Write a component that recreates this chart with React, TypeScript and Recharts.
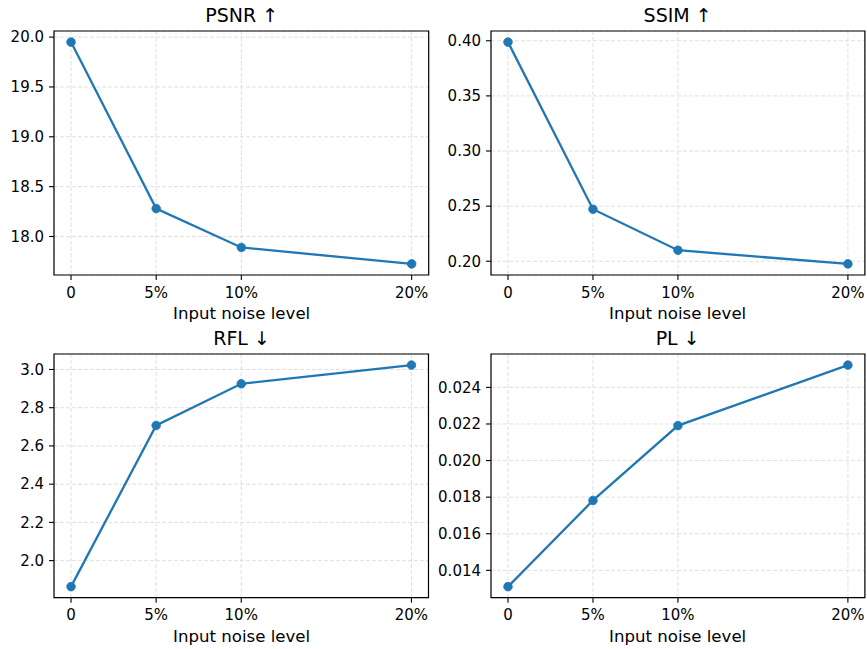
import React from 'react';
import { LineChart, Line, XAxis, YAxis, CartesianGrid, ReferenceArea } from 'recharts';

// ---- data ----
const noiseLevels = [0, 5, 10, 20];
const noiseTickLabels = ['0', '5%', '10%', '20%'];

const psnrValues = [19.95, 18.28, 17.89, 17.725];
const ssimValues = [0.3988, 0.2472, 0.21, 0.1976];
const rflValues = [1.864, 2.707, 2.925, 3.023];
const plValues = [0.01311, 0.01782, 0.02191, 0.02522];

const psnrTicks = [18.0, 18.5, 19.0, 19.5, 20.0];
const ssimTicks = [0.2, 0.25, 0.3, 0.35, 0.4];
const rflTicks = [2.0, 2.2, 2.4, 2.6, 2.8, 3.0];
const plTicks = [0.014, 0.016, 0.018, 0.02, 0.022, 0.024];

const titles = ['PSNR ↑', 'SSIM ↑', 'RFL ↓', 'PL ↓'];
const xLabel = 'Input noise level';

// ---- style ----
const FONT = '"DejaVu Sans", sans-serif';
const BLUE = '#1f77b4';
const TICK_FONT = 15;
const LABEL_FONT = 16.6;
const TITLE_FONT = 19;

const Y_W = 55;
const TOP = 10;
const RIGHT = 4;
const XH = 30;

type Box = { x0: number; x1: number; y0: number; y1: number };

const boxes: Box[] = [
  { x0: 54.3, x1: 429, y0: 31, y1: 275 },
  { x0: 490.7, x1: 864.6, y0: 31, y1: 275 },
  { x0: 54.3, x1: 428.8, y0: 354, y1: 597.7 },
  { x0: 490.7, x1: 864.6, y0: 354, y1: 597.7 },
];

function Panel({ box, values, ticks, decimals }: { box: Box; values: number[]; ticks: number[]; decimals: number }) {
  const data = noiseLevels.map((x, i) => ({ x, v: values[i] }));
  const lo = Math.min(...values);
  const hi = Math.max(...values);
  const pad = (hi - lo) * 0.05;
  const yDomain: [number, number] = [lo - pad, hi + pad];
  const xDomain: [number, number] = [-1, 21];
  const width = box.x1 - box.x0 + Y_W + RIGHT;
  const height = box.y1 - box.y0 + TOP + XH;
  return (
    <div style={{ position: 'absolute', left: box.x0 - Y_W, top: box.y0 - TOP, width, height }}>
      <LineChart width={width} height={height} data={data} margin={{ top: TOP, right: RIGHT, left: 0, bottom: 0 }}>
        <CartesianGrid stroke="#d8d8d8" strokeDasharray="4 2" strokeWidth={0.8} />
        <XAxis
          dataKey="x"
          type="number"
          domain={xDomain}
          allowDataOverflow
          ticks={noiseLevels}
          tickFormatter={(v: number) => noiseTickLabels[noiseLevels.indexOf(v)]}
          height={XH}
          axisLine={false}
          tickLine={{ stroke: '#000', strokeWidth: 1.1 }}
          tickSize={5}
          tickMargin={7}
          tick={{ fill: '#000', fontSize: TICK_FONT, fontFamily: FONT }}
          interval={0}
        />
        <YAxis
          type="number"
          domain={yDomain}
          allowDataOverflow
          ticks={ticks}
          tickFormatter={(v: number) => v.toFixed(decimals)}
          width={Y_W}
          axisLine={false}
          tickLine={{ stroke: '#000', strokeWidth: 1.1 }}
          tickSize={5}
          tickMargin={5}
          tick={{ fill: '#000', fontSize: TICK_FONT, fontFamily: FONT }}
          interval={0}
        />
        <ReferenceArea
          x1={xDomain[0]}
          x2={xDomain[1]}
          y1={yDomain[0]}
          y2={yDomain[1]}
          fill="none"
          fillOpacity={0}
          stroke="#000"
          strokeWidth={1.2}
          ifOverflow="visible"
        />
        <Line
          dataKey="v"
          type="linear"
          stroke={BLUE}
          strokeWidth={2.3}
          dot={{ r: 4.3, fill: BLUE, stroke: BLUE, strokeWidth: 0.8 }}
          activeDot={false}
          isAnimationActive={false}
        />
      </LineChart>
    </div>
  );
}

export default function App() {
  const series = [psnrValues, ssimValues, rflValues, plValues];
  const tickSets = [psnrTicks, ssimTicks, rflTicks, plTicks];
  const decimals = [1, 2, 1, 3];
  return (
    <div style={{ position: 'absolute', left: 0, top: 0, width: 867, height: 649, background: '#fff', fontFamily: FONT }}>
      {boxes.map((b, i) => (
        <Panel key={i} box={b} values={series[i]} ticks={tickSets[i]} decimals={decimals[i]} />
      ))}
      <svg width={867} height={649} style={{ position: 'absolute', left: 0, top: 0, pointerEvents: 'none' }}>
        {boxes.map((b, i) => (
          <g key={i}>
            <text x={(b.x0 + b.x1) / 2} y={b.y0 - 9.5} textAnchor="middle" fontFamily={FONT} fontSize={TITLE_FONT} fill="#000">
              {titles[i]}
            </text>
            <text x={(b.x0 + b.x1) / 2} y={b.y1 + 44} textAnchor="middle" fontFamily={FONT} fontSize={LABEL_FONT} fill="#000">
              {xLabel}
            </text>
          </g>
        ))}
      </svg>
    </div>
  );
}
